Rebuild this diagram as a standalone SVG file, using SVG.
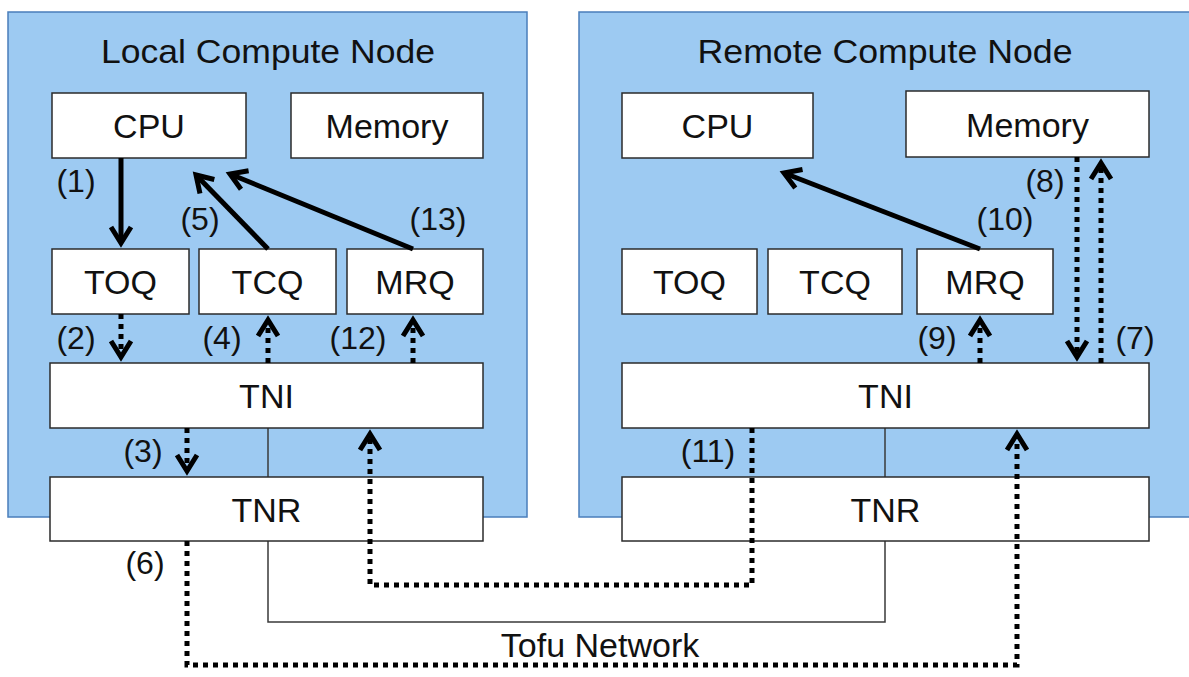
<svg xmlns="http://www.w3.org/2000/svg" width="1189" height="677" viewBox="0 0 1189 677">
  <style>
    .panel { fill: #9DCAF2; stroke: #4A7EBB; stroke-width: 1.5; }
    .box { fill: #FFFFFF; stroke: #2B2B2B; stroke-width: 1.5; }
    .title { font-family: "Liberation Sans", Arial, sans-serif; font-size: 33px; fill: #111; text-anchor: middle; }
    .lbl { font-family: "Liberation Sans", Arial, sans-serif; font-size: 34px; fill: #111; text-anchor: middle; }
    .num { font-family: "Liberation Sans", Arial, sans-serif; font-size: 32px; fill: #111; text-anchor: middle; }
    .wire { fill: none; stroke: #3A3A3A; stroke-width: 1.5; }
    .solid { fill: none; stroke: #000; stroke-width: 5; marker-end: url(#chev); }
    .dots { fill: none; stroke: #000; stroke-width: 5; stroke-dasharray: 5 5; marker-end: url(#chev); }
  </style>
  <defs>
    <marker id="chev" viewBox="-25 -15 30 30" markerWidth="30" markerHeight="30" refX="0" refY="0" markerUnits="userSpaceOnUse" orient="auto">
      <path d="M-16,-10 L0,0 L-16,10" fill="none" stroke="#000" stroke-width="5" stroke-dasharray="none" stroke-linejoin="miter"/>
    </marker>
  </defs>

  <!-- compute node panels -->
  <g id="local-node">
    <rect class="panel" x="8" y="12" width="519" height="505"/>
    <text class="title" x="268" y="63" textLength="334" lengthAdjust="spacingAndGlyphs">Local Compute Node</text>
  </g>
  <g id="remote-node">
    <rect class="panel" x="579" y="12" width="625" height="505"/>
    <text class="title" x="885" y="63" textLength="375" lengthAdjust="spacingAndGlyphs">Remote Compute Node</text>
  </g>

  <!-- wiring between TNI, TNR and the Tofu network -->
  <g id="network">
    <path class="wire" d="M268,428 V477"/>
    <path class="wire" d="M885,428 V477"/>
    <path class="wire" d="M268,541 V622 H885 V541"/>
    <text class="lbl" x="600" y="657">Tofu Network</text>
  </g>

  <!-- local node components -->
  <g id="local-cpu"><rect class="box" x="52" y="93" width="194" height="65"/><text class="lbl" x="149" y="138">CPU</text></g>
  <g id="local-memory"><rect class="box" x="291" y="93" width="192" height="65"/><text class="lbl" x="387" y="138">Memory</text></g>
  <g id="local-toq"><rect class="box" x="52" y="249" width="137" height="65"/><text class="lbl" x="120.5" y="294">TOQ</text></g>
  <g id="local-tcq"><rect class="box" x="199" y="249" width="137" height="65"/><text class="lbl" x="267.5" y="294">TCQ</text></g>
  <g id="local-mrq"><rect class="box" x="347" y="249" width="136" height="65"/><text class="lbl" x="415" y="294">MRQ</text></g>
  <g id="local-tni"><rect class="box" x="50" y="363" width="433" height="65"/><text class="lbl" x="266.5" y="408">TNI</text></g>
  <g id="local-tnr"><rect class="box" x="50" y="477" width="433" height="64"/><text class="lbl" x="266.5" y="522">TNR</text></g>

  <!-- remote node components -->
  <g id="remote-cpu"><rect class="box" x="622" y="93" width="191" height="65"/><text class="lbl" x="717.5" y="138">CPU</text></g>
  <g id="remote-memory"><rect class="box" x="906" y="91" width="243" height="66"/><text class="lbl" x="1027.5" y="137">Memory</text></g>
  <g id="remote-toq"><rect class="box" x="622" y="249" width="135" height="65"/><text class="lbl" x="689.5" y="294">TOQ</text></g>
  <g id="remote-tcq"><rect class="box" x="768" y="249" width="134" height="65"/><text class="lbl" x="835" y="294">TCQ</text></g>
  <g id="remote-mrq"><rect class="box" x="917" y="249" width="136" height="65"/><text class="lbl" x="985" y="294">MRQ</text></g>
  <g id="remote-tni"><rect class="box" x="622" y="363" width="527" height="65"/><text class="lbl" x="885.5" y="408">TNI</text></g>
  <g id="remote-tnr"><rect class="box" x="622" y="477" width="527" height="64"/><text class="lbl" x="885.5" y="522">TNR</text></g>

  <!-- numbered transfer steps -->
  <g id="connectors">
    <path class="solid" d="M121,158 V243"/>
    <path class="dots" d="M121,314 V357"/>
    <path class="dots" d="M187,428 V471"/>
    <path class="dots" d="M268,363 V320"/>
    <path class="solid" d="M268,249 L196,175"/>
    <path class="dots" d="M187,541 V665 H1017 V434"/>
    <path class="dots" d="M1101,363 V163"/>
    <path class="dots" d="M1077,157 V357"/>
    <path class="dots" d="M980,363 V320"/>
    <path class="solid" d="M980,249 L784,173"/>
    <path class="dots" d="M752,428 V585 H370 V434"/>
    <path class="dots" d="M413,363 V320"/>
    <path class="solid" d="M413,249 L230,174"/>
  </g>

  <g id="step-labels">
    <text class="num" x="76" y="192">(1)</text>
    <text class="num" x="76" y="349">(2)</text>
    <text class="num" x="143" y="462">(3)</text>
    <text class="num" x="222" y="349">(4)</text>
    <text class="num" x="200" y="230">(5)</text>
    <text class="num" x="145" y="574">(6)</text>
    <text class="num" x="1135" y="349">(7)</text>
    <text class="num" x="1045" y="192">(8)</text>
    <text class="num" x="937" y="349">(9)</text>
    <text class="num" x="1005" y="230">(10)</text>
    <text class="num" x="708" y="462">(11)</text>
    <text class="num" x="358" y="349">(12)</text>
    <text class="num" x="438" y="230">(13)</text>
  </g>
</svg>
